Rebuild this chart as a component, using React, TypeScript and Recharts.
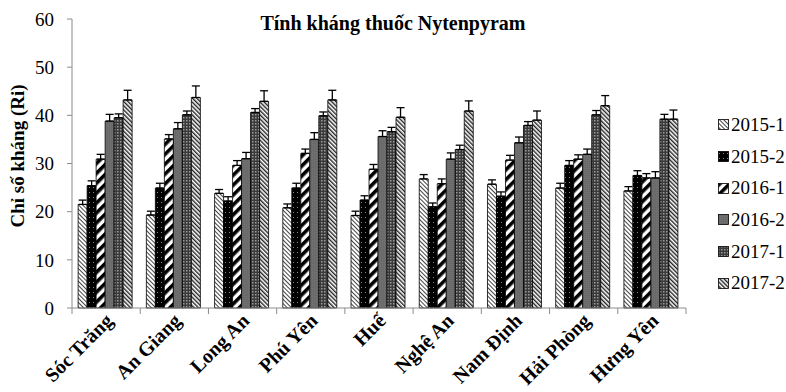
import { BarChart, Bar, XAxis, YAxis, Legend, ErrorBar } from "recharts"

const categories = [
  "Sóc Trăng",
  "An Giang",
  "Long An",
  "Phú Yên",
  "Huế",
  "Nghệ An",
  "Nam Định",
  "Hải Phòng",
  "Hưng Yên",
]
const seriesNames = ["2015-1", "2015-2", "2016-1", "2016-2", "2017-1", "2017-2"]

const v2015_1 = [21.5, 19.3, 23.8, 20.8, 19.2, 26.8, 25.7, 24.9, 24.3]
const v2015_2 = [25.4, 24.9, 22.2, 24.9, 22.4, 21.0, 23.2, 29.6, 27.5]
const v2016_1 = [30.9, 35.1, 29.6, 32.1, 28.8, 25.8, 30.7, 30.9, 27.0]
const v2016_2 = [38.8, 37.2, 31.0, 35.0, 35.6, 30.9, 34.3, 31.9, 27.0]
const v2017_1 = [39.5, 40.1, 40.6, 39.9, 36.6, 32.9, 37.9, 40.1, 39.2]
const v2017_2 = [43.2, 43.7, 42.9, 43.2, 39.6, 40.9, 39.0, 42.0, 39.2]

const e2015_1 = [0.9, 0.8, 0.8, 0.8, 0.9, 0.9, 0.9, 1.0, 0.9]
const e2015_2 = [1.0, 1.0, 0.9, 1.0, 0.9, 0.8, 0.9, 1.0, 1.0]
const e2016_1 = [1.0, 0.9, 1.0, 0.9, 1.0, 1.0, 1.0, 0.9, 0.9]
const e2016_2 = [1.4, 1.3, 1.3, 1.4, 1.2, 1.3, 1.2, 1.1, 1.3]
const e2017_1 = [0.8, 0.8, 0.8, 0.8, 0.9, 0.9, 0.8, 0.9, 1.0]
const e2017_2 = [2.0, 2.4, 2.2, 2.0, 2.0, 2.1, 1.9, 2.1, 1.9]

const yTicks = [0, 10, 20, 30, 40, 50, 60]

const values = [v2015_1, v2015_2, v2016_1, v2016_2, v2017_1, v2017_2]
const errors = [e2015_1, e2015_2, e2016_1, e2016_2, e2017_1, e2017_2]
const patternIds = ["p20151", "p20152", "p20161", "p20162", "p20171", "p20172"]

const chartData = categories.map((name, i) => {
  const row: Record<string, any> = { name }
  values.forEach((arr, s) => {
    row[`s${s}`] = arr[i]
    // only the upper half of the error bar is shown
    row[`e${s}`] = [0, errors[s][i]]
  })
  return row
})

const SERIF = '"Liberation Serif", "Times New Roman", serif'
const W = 786
const H = 392
const LEGEND_W = 100
const Y_W = 72
const BAND = (W - Y_W - LEGEND_W) / categories.length
const AXIS_GREY = "#8c8c8c"

function Patterns() {
  return (
    <svg width={0} height={0} style={{ position: "absolute" }}>
      <defs>
        <pattern id="p20151" width={3} height={3} patternUnits="userSpaceOnUse" patternTransform="rotate(-45)">
          <rect width={3} height={3} fill="#fff" />
          <line x1={0.5} y1={0} x2={0.5} y2={3} stroke="#444" strokeWidth={1} />
        </pattern>
        <pattern id="p20152" width={4} height={5} patternUnits="userSpaceOnUse">
          <rect width={4} height={5} fill="#000" />
          <rect x={1} y={2} width={1} height={1} fill="#888" />
        </pattern>
        <pattern id="p20161" width={7} height={7} patternUnits="userSpaceOnUse" patternTransform="rotate(45)">
          <rect width={7} height={7} fill="#fff" />
          <rect width={3.6} height={7} fill="#000" />
        </pattern>
        <pattern id="p20162" width={2} height={2} patternUnits="userSpaceOnUse">
          <rect width={2} height={2} fill="#6a6a6a" />
          <rect width={1} height={1} fill="#737373" />
        </pattern>
        <pattern id="p20171" width={3} height={3} patternUnits="userSpaceOnUse">
          <rect width={3} height={3} fill="#3a3a3a" />
          <rect width={1.5} height={1.5} fill="#9a9a9a" />
        </pattern>
        <pattern id="p20172" width={3} height={3} patternUnits="userSpaceOnUse" patternTransform="rotate(-45)">
          <rect width={3} height={3} fill="#fff" />
          <line x1={0.7} y1={0} x2={0.7} y2={3} stroke="#222" strokeWidth={1.4} />
        </pattern>
      </defs>
    </svg>
  )
}

// eslint-disable-next-line @typescript-eslint/no-explicit-any
function CategoryTick({ x, y, payload, index }: any) {
  const last = index === categories.length - 1
  return (
    <g>
      <line x1={x - BAND / 2} y1={y} x2={x - BAND / 2} y2={y + 6} stroke={AXIS_GREY} />
      {last && <line x1={x + BAND / 2} y1={y} x2={x + BAND / 2} y2={y + 6} stroke={AXIS_GREY} />}
      <text
        transform={`translate(${x + 8},${y + 14}) rotate(-45)`}
        textAnchor="end"
        fontFamily={SERIF}
        fontWeight="bold"
        fontSize={20}
        fill="#000"
      >
        {payload.value}
      </text>
    </g>
  )
}

function LegendBox() {
  return (
    <div style={{ width: LEGEND_W, fontFamily: SERIF, fontSize: 19, color: "#000" }}>
      {seriesNames.map((n, i) => (
        <div key={n} style={{ display: "flex", alignItems: "center", height: 31.7, paddingLeft: 32 }}>
          <svg width={11} height={11} style={{ marginRight: 2 }}>
            <rect x={0.5} y={0.5} width={10} height={10} fill={`url(#${patternIds[i]})`} stroke="#000" strokeWidth={0.8} />
          </svg>
          <span>{n}</span>
        </div>
      ))}
    </div>
  )
}

function YLabel() {
  return (
    <text
      x={17}
      y={156}
      transform="rotate(-90 17 156)"
      textAnchor="middle"
      dominantBaseline="central"
      fontFamily={SERIF}
      fontWeight="bold"
      fontSize={19}
      fill="#000"
    >
      Chỉ số kháng (Ri)
    </text>
  )
}

export default function App() {
  return (
    <div style={{ position: "absolute", left: 0, top: 0, width: W, height: H, background: "#fff" }}>
      <Patterns />
      <div
        style={{
          position: "absolute",
          top: 12,
          left: 0,
          width: W,
          textAlign: "center",
          fontFamily: SERIF,
          fontWeight: "bold",
          fontSize: 20,
          lineHeight: "22px",
          zIndex: 2,
        }}
      >
        Tính kháng thuốc Nytenpyram
      </div>
      <BarChart
        width={W}
        height={H}
        data={chartData}
        margin={{ top: 19, right: 0, bottom: 0, left: 0 }}
        barCategoryGap="9%"
        barGap={0}
      >
        <XAxis
          dataKey="name"
          interval={0}
          axisLine={{ stroke: AXIS_GREY }}
          tickLine={false}
          tickSize={0}
          tickMargin={0}
          height={84}
          tick={<CategoryTick />}
        />
        <YAxis
          domain={[0, 60]}
          ticks={yTicks}
          width={Y_W}
          axisLine={{ stroke: AXIS_GREY }}
          tickLine={{ stroke: AXIS_GREY }}
          tickSize={5}
          tickMargin={13}
          tick={{ fill: "#000", fontSize: 19, fontFamily: SERIF }}
          label={{ content: () => <YLabel /> }}
        />
        <Legend
          layout="vertical"
          align="right"
          verticalAlign="top"
          width={LEGEND_W}
          wrapperStyle={{ top: 109, left: W - LEGEND_W }}
          content={() => <LegendBox />}
        />
        {seriesNames.map((n, s) => (
          <Bar
            key={n}
            dataKey={`s${s}`}
            name={n}
            fill={`url(#${patternIds[s]})`}
            stroke="#000"
            strokeWidth={0.8}
            isAnimationActive={false}
          >
            <ErrorBar dataKey={`e${s}`} width={4} stroke="#000" strokeWidth={1.3} direction="y" />
          </Bar>
        ))}
      </BarChart>
    </div>
  )
}
